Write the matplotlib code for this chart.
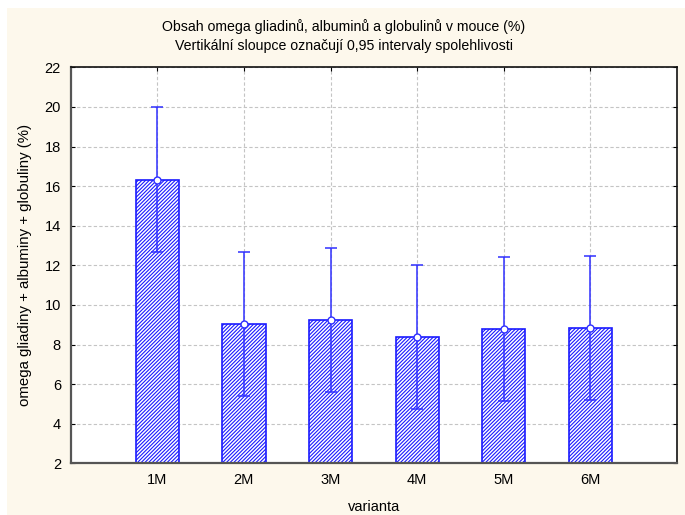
import matplotlib
matplotlib.use("Agg")
import matplotlib.pyplot as plt
from matplotlib.patches import Rectangle
import numpy as np

# data
categories = ["1M", "2M", "3M", "4M", "5M", "6M"]
means = [16.30, 9.02, 9.22, 8.40, 8.78, 8.83]
ci_low = [12.65, 5.38, 5.58, 4.75, 5.14, 5.18]
ci_high = [19.97, 12.66, 12.86, 12.04, 12.42, 12.48]
yticks = [2, 4, 6, 8, 10, 12, 14, 16, 18, 20, 22]

plt.rcParams["font.family"] = ["Liberation Sans", "DejaVu Sans"]
plt.rcParams["hatch.color"] = "#2a2aff"
plt.rcParams["hatch.linewidth"] = 0.8

fig = plt.figure(figsize=(6.85, 5.15), dpi=100)
fig.patch.set_facecolor("white")
# cream panel behind everything
fig.add_artist(Rectangle((7 / 685, 0), 1 - 7 / 685, (515 - 8) / 515,
                         transform=fig.transFigure, facecolor="#fdf8ec",
                         edgecolor="none", zorder=-10))

ax = fig.add_axes([70.7 / 685, (515 - 463.3) / 515, (677 - 70.7) / 685, (463.3 - 67.3) / 515])
ax.set_facecolor("white")

x = np.arange(1, len(categories) + 1)
means_a = np.array(means)
err = [means_a - np.array(ci_low), np.array(ci_high) - means_a]

ax.bar(x, means, width=0.5, color="white", edgecolor="#1a1aff", linewidth=1.2,
       hatch="/////////", zorder=2)
ax.errorbar(x, means, yerr=err, fmt="o", color="#3030ff", ecolor="#3030ff",
            elinewidth=1.1, capsize=4.5, capthick=1.1, markersize=5,
            markerfacecolor="white", markeredgecolor="#3030ff", zorder=3)

ax.set_xlim(0, 7)
ax.set_ylim(2, 22)
ax.set_xticks(x)
ax.set_xticklabels(categories)
ax.set_yticks(yticks)
ax.tick_params(axis="both", direction="in", length=3, labelsize=10.5,
               top=True, right=True, pad=7)
ax.grid(True, color="#c4c4c4", linestyle=(0, (3, 2)), linewidth=0.8, zorder=0)
ax.set_axisbelow(True)

for side in ["left", "bottom"]:
    ax.spines[side].set_color("#555555")
    ax.spines[side].set_linewidth(1.6)
for side in ["top", "right"]:
    ax.spines[side].set_color("#111111")
    ax.spines[side].set_linewidth(1.2)

ax.set_xlabel("varianta", fontsize=10.5, labelpad=9)
ax.set_ylabel("omega gliadiny + albuminy + globuliny (%)", fontsize=10.8, labelpad=9)

fig.text(0.502, 1 - 27 / 515, "Obsah omega gliadinů, albuminů a globulinů v mouce (%)",
         ha="center", va="center", fontsize=10.2)
fig.text(0.502, 1 - 46 / 515, "Vertikální sloupce označují 0,95 intervaly spolehlivosti",
         ha="center", va="center", fontsize=10.2)

fig.savefig("out.png", dpi=100)
